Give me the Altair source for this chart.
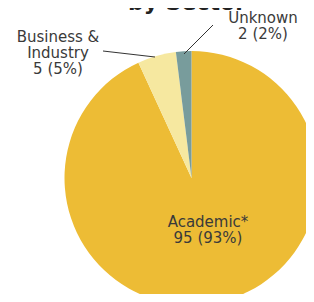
import altair as alt
import pandas as pd

categories = ["Academic*", "Business & Industry", "Unknown"]
values = [95, 5, 2]
percents = ["93%", "5%", "2%"]
order = [0, 1, 2]
colors = ["#EDBC35", "#F6E8A0", "#789C9C"]

df = pd.DataFrame({"category": categories, "value": values, "pct": percents, "ord": order})

CX, CY, R = 183.5, 170, 127

pie = alt.Chart(df).mark_arc(radius=R, stroke=None, clip=True).encode(
    theta=alt.Theta("value:Q", stack=True),
    order=alt.Order("ord:Q", sort="ascending"),
    color=alt.Color("category:N", scale=alt.Scale(domain=categories, range=colors), legend=None),
    x=alt.value(CX),
    y=alt.value(CY),
)

label_text = [
    "Academic*\n95 (93%)",
    "Business &\nIndustry\n5 (5%)",
    "Unknown\n2 (2%)",
]
label_pos = [(200, 207), (50, 22), (255, 3)]

layers = [pie]
for txt, (lx, ly) in zip(label_text, label_pos):
    layers.append(
        alt.Chart(pd.DataFrame({"t": [txt]})).mark_text(
            font="DejaVu Sans", fontSize=15, color="#3a3a3a", align="center",
            baseline="top", lineBreak="\n", lineHeight=16, clip=True,
        ).encode(text="t:N", x=alt.value(lx), y=alt.value(ly))
    )

leader = [((95, 43), (147, 49)), ((205, 17), (176, 46))]
for (x1, y1), (x2, y2) in leader:
    layers.append(
        alt.Chart(pd.DataFrame({"a": [0]})).mark_rule(color="#333333", strokeWidth=1, clip=True).encode(
            x=alt.value(x1), y=alt.value(y1), x2=alt.value(x2), y2=alt.value(y2)
        )
    )

layers.append(
    alt.Chart(pd.DataFrame({"t": ["by Sector"]})).mark_text(
        font="DejaVu Sans", fontSize=22, fontWeight="bold", color="#222222",
        align="center", baseline="alphabetic", clip=True,
    ).encode(text="t:N", x=alt.value(179), y=alt.value(1.5))
)

chart = alt.layer(*layers).properties(
    width=298, height=286, autosize=alt.AutoSizeParams(type="none"), padding=0
).configure_view(stroke=None)

chart.save("out.html", embed_options={"renderer": "svg", "actions": False})
